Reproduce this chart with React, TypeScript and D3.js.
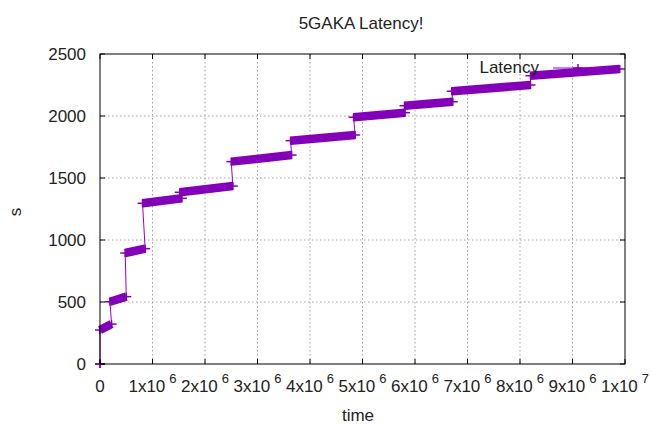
import React from "react";
import * as d3 from "d3";

// Step segments of the latency series (time in units, value in s)
const segStartT = [0, 0, 0.19e6, 0.48e6, 0.81e6, 1.52e6, 2.5e6, 3.63e6, 4.83e6, 5.8e6, 6.7e6, 8.2e6];
const segEndT = [0, 0.22e6, 0.5e6, 0.86e6, 1.56e6, 2.53e6, 3.65e6, 4.86e6, 5.81e6, 6.72e6, 8.2e6, 9.9e6];
const segStartV = [0, 274, 502, 895, 1296, 1385, 1632, 1801, 1990, 2083, 2200, 2325];
const segEndV = [0, 322, 543, 930, 1336, 1435, 1685, 1847, 2027, 2115, 2250, 2379];

const xTicks = [0, 1e6, 2e6, 3e6, 4e6, 5e6, 6e6, 7e6, 8e6, 9e6, 1e7];
const xTickBase = ["0", "1x10", "2x10", "3x10", "4x10", "5x10", "6x10", "7x10", "8x10", "9x10", "1x10"];
const xTickExp = ["", "6", "6", "6", "6", "6", "6", "6", "6", "6", "7"];
const yTicks = [0, 500, 1000, 1500, 2000, 2500];

const W = 651;
const H = 425;
const left = 100, right = 625, top = 54, bottom = 364;
const FONT = "'Liberation Sans', Arial, sans-serif";
const COLOR = "#9400d3";
const BAND = "#8200b8";

export default function App() {
  const x = d3.scaleLinear().domain([0, 1e7]).range([left, right]);
  const y = d3.scaleLinear().domain([0, 2500]).range([bottom, top]);
  const line = d3.line<[number, number]>().x(d => x(d[0])).y(d => y(d[1]));

  // thin connecting line through all segment ends
  const pts: [number, number][] = [];
  segStartT.forEach((t, i) => {
    pts.push([t, segStartV[i]]);
    pts.push([segEndT[i], segEndV[i]]);
  });

  const plus = (cx: number, cy: number, k: string) => (
    <g key={k} stroke={BAND} strokeWidth={1.5}>
      <line x1={cx - 5} x2={cx + 5} y1={cy} y2={cy} />
      <line x1={cx} x2={cx} y1={cy - 4} y2={cy + 4} />
    </g>
  );

  return (
    <svg width={W} height={H} style={{ position: "absolute", left: 0, top: 0, background: "#fff" }} fontFamily={FONT}>
      <rect width={W} height={H} fill="#fff" />
      {/* grid */}
      <g stroke="#a0a0a0" strokeWidth={1} strokeDasharray="1.5,2.5">
        {xTicks.slice(1, -1).map(t => (
          <line key={"gx" + t} x1={x(t)} x2={x(t)} y1={top} y2={bottom} />
        ))}
        {yTicks.slice(1, -1).map(t => (
          <line key={"gy" + t} x1={left} x2={right} y1={y(t)} y2={y(t)} />
        ))}
      </g>
      {/* data */}
      <path d={line(pts) || ""} fill="none" stroke={COLOR} strokeWidth={1} />
      {segStartT.map((t, i) =>
        segEndT[i] > t ? (
          <path
            key={"band" + i}
            d={line([[t, segStartV[i]], [segEndT[i], segEndV[i]]]) || ""}
            stroke={BAND}
            strokeWidth={8.5}
            fill="none"
          />
        ) : null
      )}
      {segStartT.map((t, i) => plus(x(t), y(segStartV[i]), "ps" + i))}
      {segEndT.map((t, i) => plus(x(t), y(segEndV[i]), "pe" + i))}
      {/* border */}
      <rect x={left} y={top} width={right - left} height={bottom - top} fill="none" stroke="#000" strokeWidth={1} />
      {/* ticks */}
      <g stroke="#000" strokeWidth={1}>
        {xTicks.map(t => (
          <g key={"tx" + t}>
            <line x1={x(t)} x2={x(t)} y1={bottom} y2={bottom - 5} />
            <line x1={x(t)} x2={x(t)} y1={top} y2={top + 5} />
          </g>
        ))}
        {yTicks.map(t => (
          <g key={"ty" + t}>
            <line x1={left} x2={left + 5} y1={y(t)} y2={y(t)} />
            <line x1={right} x2={right - 5} y1={y(t)} y2={y(t)} />
          </g>
        ))}
      </g>
      {/* tick labels */}
      <g fontSize={17} fill="#222">
        {yTicks.map(t => (
          <text key={"yl" + t} x={86} y={y(t) + 6} textAnchor="end">
            {t}
          </text>
        ))}
        {xTicks.map((t, i) => (
          <text key={"xl" + t} x={x(t)} y={392} textAnchor="middle">
            {xTickBase[i]}
            {xTickExp[i] ? (
              <tspan dx={4} dy={-9} fontSize={13}>
                {xTickExp[i]}
              </tspan>
            ) : null}
          </text>
        ))}
      </g>
      {/* labels */}
      <text x={361} y={29} textAnchor="middle" fontSize={17} fill="#222">
        5GAKA Latency!
      </text>
      <text x={358} y={421} textAnchor="middle" fontSize={17} fill="#222">
        time
      </text>
      <text transform="translate(21,212) rotate(-90)" textAnchor="middle" fontSize={17} fill="#222">
        s
      </text>
      {/* key */}
      <text x={539} y={73} textAnchor="end" fontSize={17} fill="#222">
        Latency
      </text>
      <line x1={553} x2={605} y1={68} y2={68} stroke={COLOR} strokeWidth={1} />
      {plus(578, 68, "key")}
    </svg>
  );
}
